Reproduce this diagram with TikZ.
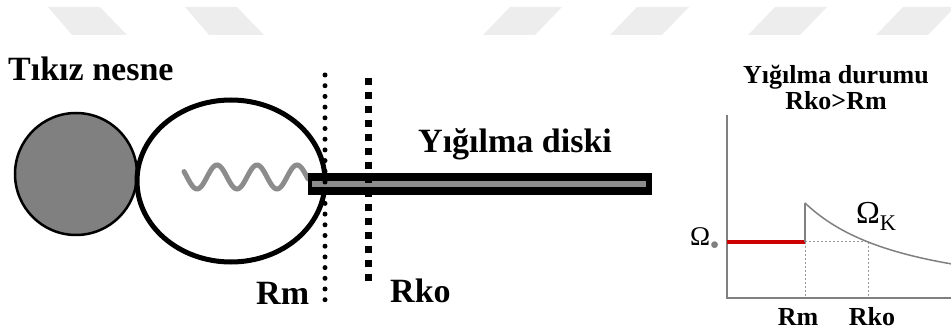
\documentclass[tikz,border=0pt]{standalone}
\usepackage{fontspec}
\setmainfont{Liberation Serif}

\begin{document}
\begin{tikzpicture}[x=1pt, y=-1pt,
	big/.style={inner sep=0, font=\fontsize{34}{40}\selectfont\bfseries},
	small/.style={inner sep=0, font=\fontsize{26}{30}\selectfont\bfseries},
	axis/.style={draw=black!50, line width=1.5},
	guide/.style={draw=black!40, line width=1, dash pattern=on 2 off 2}]
	\useasboundingbox (0, 0) rectangle (951, 331);

	% faint bands along the top
	\foreach \a/\b in {48/72, 185/208} {
		\fill[black!7] (\a, 7) -- ++(52, 0) -- ++(27, 28) -- ++(-55, 0) -- cycle;
	}
	\foreach \a in {510, 637, 775, 903} {
		\fill[black!7] (\a, 7) -- ++(52, 0) -- ++(-27, 28) -- ++(-52, 0) -- cycle;
	}

	% star and its lobe
	\filldraw[fill=black!50, draw=black, line width=2.5] (76, 174) circle (61);
	\draw[line width=5] (231, 181) ellipse (94 and 81);
	\draw[black!45, line width=5, line cap=round]
		plot[domain=184:308, samples=90, smooth] (\x, {177 - 12*cos((\x-217)*9)});

	% disk
	\fill (308, 173) rectangle (652, 195);
	\draw[black!45, line width=6] (312, 184) -- (646, 184);

	% radii
	\coordinate (rmtop) at (325, 75);
	\coordinate (rmbot) at (325, 300);
	\coordinate (rktop) at (368, 78);
	\coordinate (rkbot) at (368, 286);
	\draw[line width=5, line cap=round, dash pattern=on 0 off 10.7] (rmtop) -- (rmbot);
	\draw[line width=7, dash pattern=on 7 off 7] (rktop) -- (rkbot);

	\node[big, anchor=base west] (obj) at (8, 81) {Tıkız nesne};
	\node[big, anchor=base west] (disk) at (418, 153) {Yığılma diski};
	\node[big, anchor=base west] (rm) at (256, 305) {Rm};
	\node[big, anchor=base west] (rko) at (390, 302) {Rko};

	% rotation curve
	\coordinate (o) at (727, 298);
	\coordinate (ytop) at (727, 115);
	\coordinate (xend) at (951, 298);
	\coordinate (jump) at (805, 242);
	\coordinate (peak) at (805, 203);
	\coordinate (cross) at (868, 242);
	\draw[axis] (ytop) -- (o) -- (xend);
	\draw[guide] (jump) -- (cross);
	\draw[guide] (jump) -- (805, 298);
	\draw[guide] (cross) -- (868, 298);
	\draw[red!80!black, line width=4] (727, 242) -- (jump);
	\draw[axis] (jump) -- (peak);
	\draw[axis] plot[domain=805:951, samples=60, smooth]
		(\x, {298 - 95*((\x-655.7)/149.3)^(-1.5)});

	\node[small, anchor=base] (title) at (836, 84) {Yığılma durumu};
	\node[small, anchor=base] (cond) at (836, 110) {Rko>Rm};
	\node[small, anchor=base] (grm) at (798, 325) {Rm};
	\node[small, anchor=base] (grko) at (872, 325) {Rko};
	\node[inner sep=0, anchor=base west, font=\fontsize{32}{36}\selectfont] (wk) at (856, 224) {Ω\textsubscript{K}};
	\node[inner sep=0, anchor=base west, font=\fontsize{27}{30}\selectfont] (ws) at (690, 246) {Ω\textsubscript{\textcolor{black!50}{$\bullet$}}};
\end{tikzpicture}
\end{document}
